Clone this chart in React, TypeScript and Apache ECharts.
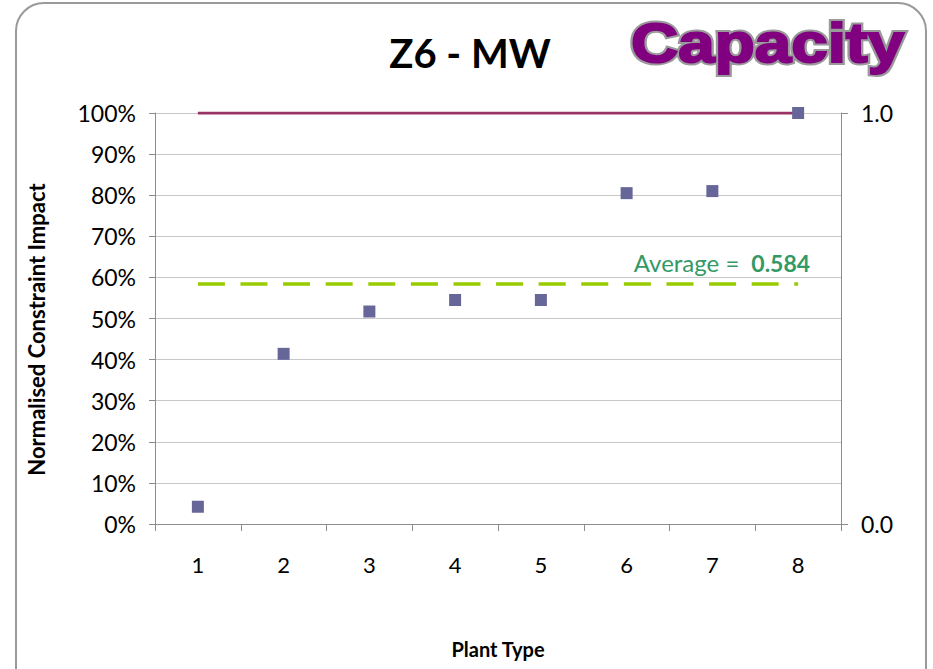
import React, { useEffect, useRef } from "react";
import * as echarts from "echarts";

const categories = ["1", "2", "3", "4", "5", "6", "7", "8"];
const impactValues = [4.2, 41.4, 51.7, 54.5, 54.5, 80.5, 81.0, 100];
const maxLine = [100, 100, 100, 100, 100, 100, 100, 100];
const averageValue = 58.4;
const averageLabel = "0.584";
const leftTicks = [0, 10, 20, 30, 40, 50, 60, 70, 80, 90, 100];

const FONT = "Lato, 'Noto Sans', sans-serif";
const avgLine = categories.map(() => averageValue);

export default function App() {
  const ref = useRef<HTMLDivElement>(null);
  useEffect(() => {
    if (!ref.current) return;
    const chart = echarts.init(ref.current, undefined, { renderer: "svg" });
    const capStyle = {
      text: "Capacity",
      fontFamily: "'Liberation Sans', Arial, sans-serif",
      fontSize: 56,
      fontWeight: 900,
      align: "left",
      verticalAlign: "middle",
    };
    chart.setOption({
      animation: false,
      backgroundColor: "#ffffff",
      textStyle: { fontFamily: FONT },
      grid: { left: 155, right: 92, top: 113, bottom: 145, containLabel: false },
      graphic: [
        {
          type: "rect",
          shape: { x: 16, y: 3, width: 910, height: 720, r: 28 },
          style: { fill: "none", stroke: "#9a9a9a", lineWidth: 2 },
          z: -1,
        },
        {
          type: "text",
          x: 470,
          y: 53,
          style: {
            text: "Z6 - MW",
            fontFamily: FONT,
            fontSize: 40,
            fontWeight: "bold",
            fill: "#000",
            align: "center",
            verticalAlign: "middle",
          },
        },
        {
          type: "text",
          x: 631,
          y: 43,
          scaleX: 1.17,
          style: { ...capStyle, fill: "#9a9a9a", stroke: "#9a9a9a", lineWidth: 6 },
        },
        {
          type: "text",
          x: 631,
          y: 43,
          scaleX: 1.17,
          style: { ...capStyle, fill: "#800080", stroke: "#800080", lineWidth: 2 },
        },
      ],
      xAxis: {
        type: "category",
        data: categories,
        boundaryGap: true,
        name: "Plant Type",
        nameLocation: "middle",
        nameGap: 115,
        nameTextStyle: { fontFamily: FONT, fontSize: 20, fontWeight: "bold", color: "#000" },
        axisLine: { lineStyle: { color: "#8c8c8c", width: 1 } },
        axisTick: { show: true, alignWithLabel: false, length: 7, lineStyle: { color: "#8c8c8c" } },
        axisLabel: { fontFamily: FONT, fontSize: 22, color: "#000", margin: 29 },
        splitLine: { show: false },
      },
      yAxis: [
        {
          type: "value",
          min: 0,
          max: 100,
          interval: 10,
          name: "Normalised Constraint Impact",
          nameLocation: "middle",
          nameRotate: 90,
          nameGap: 108,
          nameTextStyle: {
            fontFamily: FONT,
            fontSize: 22,
            fontWeight: "bold",
            color: "#000",
            padding: [0, 22, 0, 0],
          },
          axisLine: { show: true, lineStyle: { color: "#8c8c8c", width: 1 } },
          axisTick: { show: true, length: 6, lineStyle: { color: "#8c8c8c" } },
          axisLabel: {
            fontFamily: FONT,
            fontSize: 23,
            color: "#000",
            margin: 19,
            formatter: (v: number) => (leftTicks.includes(v) ? v + "%" : ""),
          },
          splitLine: { show: true, lineStyle: { color: "#c8c8c8", width: 1 } },
        },
        {
          type: "value",
          min: 0,
          max: 1,
          interval: 1,
          position: "right",
          axisLine: { show: true, lineStyle: { color: "#8c8c8c", width: 1 } },
          axisTick: { show: true, length: 7, lineStyle: { color: "#8c8c8c" } },
          axisLabel: {
            fontFamily: FONT,
            fontSize: 23,
            color: "#000",
            margin: 20,
            formatter: (v: number) => v.toFixed(1),
          },
          splitLine: { show: false },
        },
      ],
      series: [
        {
          name: "Max",
          type: "line",
          data: maxLine,
          symbol: "none",
          lineStyle: { color: "#993366", width: 3 },
          z: 2,
        },
        {
          name: "Average",
          type: "line",
          data: avgLine,
          symbol: "none",
          lineStyle: { color: "#99cc00", width: 3.5, type: [27, 15.6] },
          endLabel: {
            show: true,
            distance: 0,
            align: "right",
            offset: [12, -21],
            formatter: () => "{a|Average =}{b|" + averageLabel + "}",
            rich: {
              a: { fontFamily: FONT, fontSize: 24, color: "#339966" },
              b: {
                fontFamily: FONT,
                fontSize: 23,
                fontWeight: "bold",
                color: "#339966",
                padding: [0, 0, 0, 12],
              },
            },
          },
          z: 2,
        },
        {
          name: "Impact",
          type: "scatter",
          data: impactValues,
          symbol: "rect",
          symbolSize: 12,
          itemStyle: { color: "#666699", opacity: 1 },
          z: 3,
        },
      ],
    });
    return () => chart.dispose();
  }, []);
  return (
    <div
      ref={ref}
      style={{ position: "fixed", left: 0, top: 0, width: 933, height: 669 }}
    />
  );
}
